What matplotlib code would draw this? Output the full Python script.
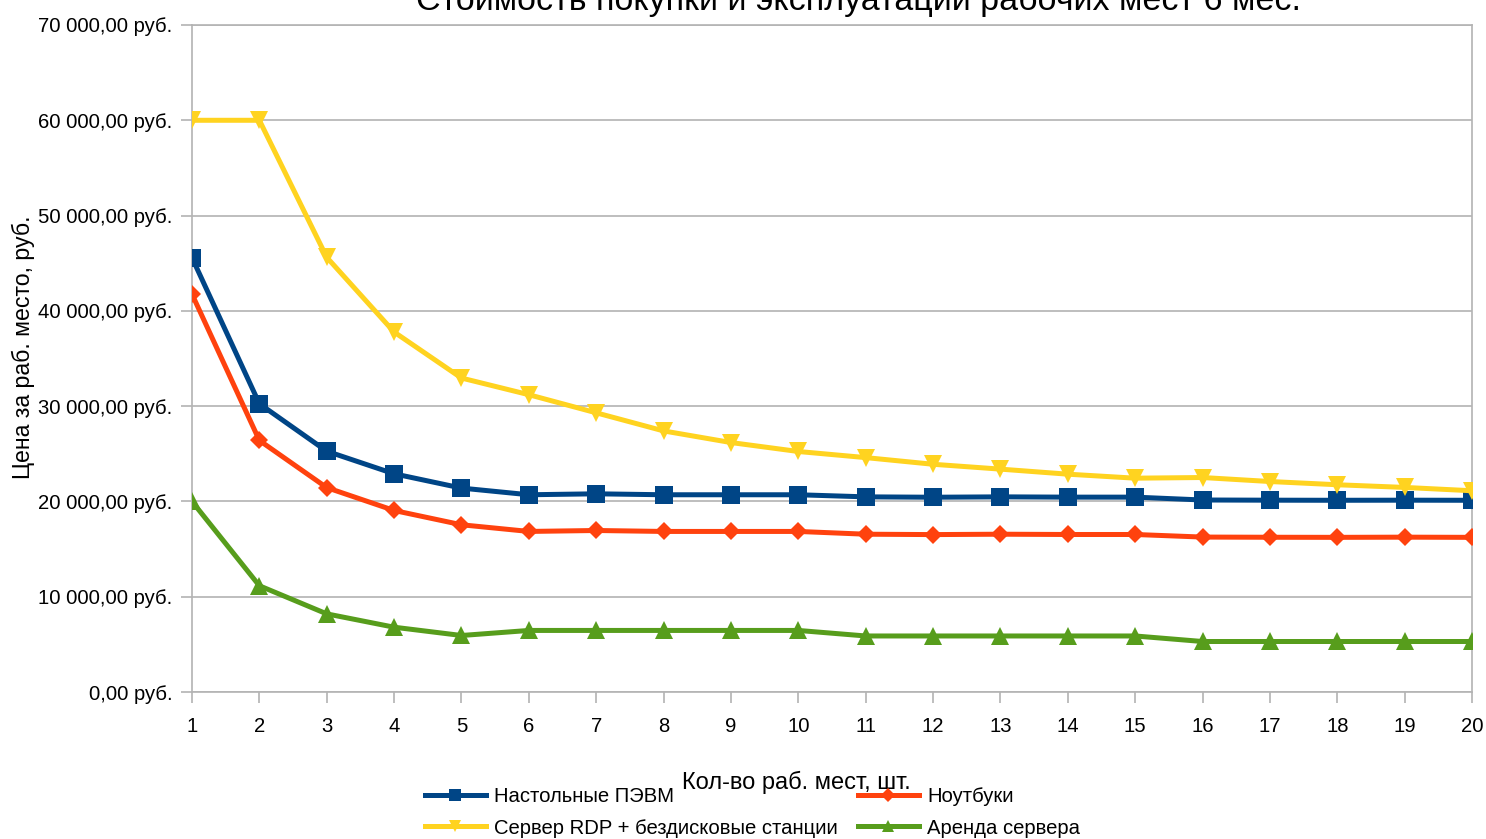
import matplotlib
matplotlib.use('Agg')
import matplotlib.pyplot as plt
from matplotlib.ticker import FuncFormatter

plt.rcParams['font.family'] = ['Liberation Sans', 'DejaVu Sans']

# Количество рабочих мест
workplaces = list(range(1, 21))

# Цена за рабочее место, руб.
desktop = [45580, 30250, 25270, 22900, 21400, 20700, 20800, 20700, 20700, 20700,
           20480, 20440, 20480, 20450, 20450, 20150, 20130, 20120, 20130, 20120]
laptop = [41750, 26400, 21450, 19050, 17550, 16850, 16950, 16850, 16850, 16850,
          16560, 16520, 16560, 16530, 16530, 16260, 16240, 16230, 16250, 16230]
rdp_server = [60000, 60000, 45620, 37780, 32950, 31200, 29300, 27400, 26180, 25240,
              24600, 23900, 23390, 22860, 22440, 22510, 22090, 21750, 21470, 21120]
server_rent = [20000, 11150, 8200, 6800, 5930, 6460, 6460, 6460, 6460, 6460,
               5880, 5880, 5880, 5880, 5880, 5300, 5300, 5300, 5300, 5300]

series = [
    ('Настольные ПЭВМ', desktop, '#004586', 's', 13),
    ('Ноутбуки', laptop, '#ff420e', 'D', 9.5),
    ('Сервер RDP + бездисковые станции', rdp_server, '#ffd320', 'v', 13),
    ('Аренда сервера', server_rent, '#579d1c', '^', 13),
]

fig = plt.figure(figsize=(14.86, 8.39), dpi=100)
ax = fig.add_axes([192 / 1486, 1 - 692 / 839, 1280 / 1486, 667 / 839])

lines = {}
for name, vals, color, marker, ms in series:
    ln, = ax.plot(workplaces, vals, color=color, linewidth=3.6, marker=marker,
                  markersize=ms, markeredgewidth=0, label=name, zorder=3)
    lines[name] = ln

ax.set_xlim(1, 20)
ax.set_ylim(0, 70000)
ax.set_xticks(workplaces)
ax.set_yticks(range(0, 70001, 10000))


def rub(v, pos):
    whole = f'{v:,.2f}'.replace(',', ' ').replace('.', ',')
    return f'{whole} руб.'


ax.yaxis.set_major_formatter(FuncFormatter(rub))
ax.grid(axis='y', color='#b3b3b3', linewidth=1.2)
ax.set_axisbelow(True)
for side in ['left', 'right', 'bottom', 'top']:
    ax.spines[side].set_color('#b3b3b3')
    ax.spines[side].set_linewidth(1.2)
ax.tick_params(axis='both', colors='#b3b3b3', labelcolor='black',
               labelsize=14.6, length=8, width=1.2)
ax.tick_params(axis='y', pad=6)
ax.tick_params(axis='x', pad=10)

# заголовок частично уходит за верхний край
fig.text(859 / 1486, 1 - 10 / 839,
         'Стоимость покупки и эксплуатации рабочих мест 6 мес.',
         fontsize=24.5, ha='center', va='baseline')
ax.set_ylabel('Цена за раб. место, руб.', fontsize=16.7)
ax.yaxis.set_label_coords(-0.1227, 0.517)
ax.set_xlabel('Кол-во раб. мест, шт.', fontsize=17)
ax.xaxis.set_label_coords(0.472, -0.118)

# две колонки легенды, заполняемые построчно
legend_cols = [
    (425, ['Настольные ПЭВМ', 'Сервер RDP + бездисковые станции']),
    (858, ['Ноутбуки', 'Аренда сервера']),
]
for x0, names in legend_cols:
    fig.legend([lines[n] for n in names], names,
               loc='upper left', bbox_to_anchor=(x0 / 1486, 1 - 787 / 839),
               frameon=False, fontsize=14.6, handlelength=3.0,
               handletextpad=0.4, labelspacing=0.62, markerscale=0.7,
               borderaxespad=0, borderpad=0)

fig.savefig('out.png', dpi=100)
